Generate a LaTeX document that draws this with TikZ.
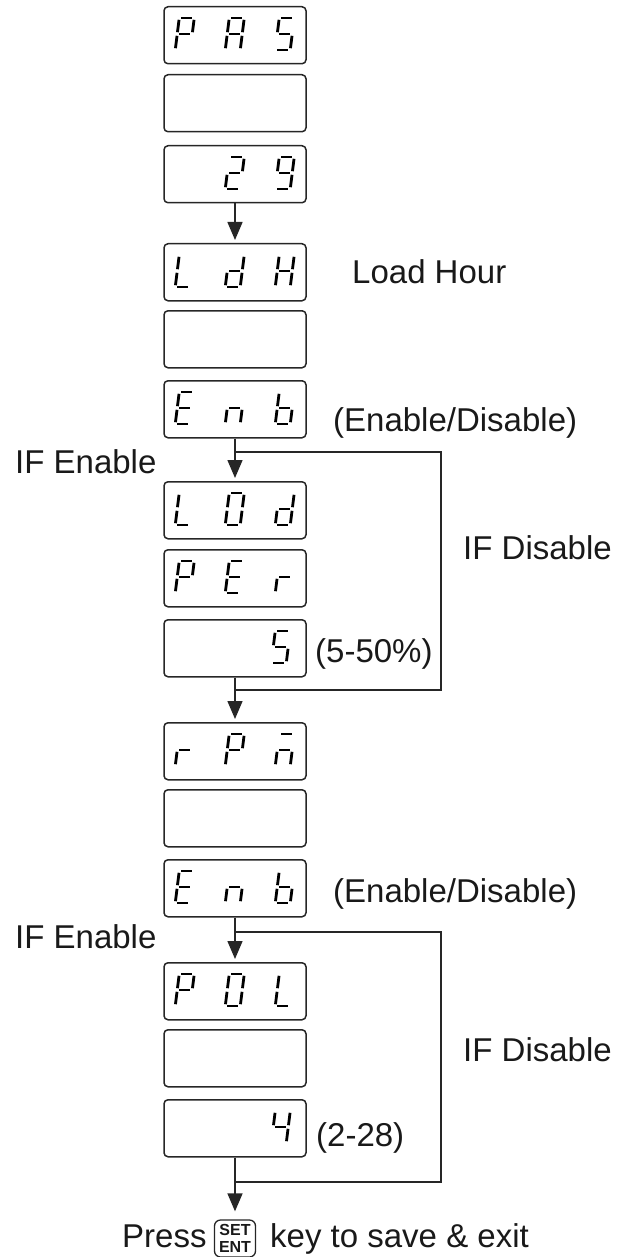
\documentclass[tikz,border=0pt]{standalone}
\usepackage{fontspec}
\setmainfont{Liberation Sans}
\usetikzlibrary{arrows.meta}

% seven-segment geometry: cell 19 wide (15 + 4 slant), 32 high, y grows downwards
\def\dsega{(5.8,0) -- (17.2,0)}
\def\dsegb{(18.775,1.8) -- (17.225,14.2)}
\def\dsegc{(16.775,17.8) -- (15.225,30.2)}
\def\dsegd{(1.8,32) -- (13.2,32)}
\def\dsege{(1.775,17.8) -- (0.225,30.2)}
\def\dsegf{(3.775,1.8) -- (2.225,14.2)}
\def\dsegg{(3.8,16) -- (15.2,16)}

% one digit: box name, x offset inside the box, list of lit segments
\newcommand\sevdigit[3]{%
  \begin{scope}[shift={(#1.north west)}, shift={(#2,12)}]
    \foreach \sg in {#3}{%
      \edef\segcmd{\noexpand\draw[segline] \csname dseg\sg\endcsname;}\segcmd}
  \end{scope}}

\tikzset{
  disp/.style={draw=black!85, line width=1.5pt, rounded corners=4pt,
    minimum width=142pt, minimum height=57pt, inner sep=0pt, anchor=north},
  segline/.style={line width=2.8pt, line cap=butt, draw=black},
  conn/.style={draw=black!85, line width=1.5pt},
  arr/.style={conn, -{Triangle[width=15pt,length=18pt]}, shorten >=3pt},
  lbl/.style={font=\fontsize{33}{36}\selectfont, text=black!90,
    inner sep=0pt, anchor=base west},
  keycap/.style={draw=black!85, line width=1.3pt, rounded corners=6pt,
    minimum width=41pt, minimum height=37pt, inner sep=0pt, align=center,
    font=\fontsize{16}{17}\selectfont\bfseries, text=black!90},
}

\begin{document}
\begin{tikzpicture}[x=1pt,y=-1pt]
\useasboundingbox (0,0) rectangle (631,1257);

% display boxes
\node[disp] (pas)  at (235,6)    {};
\node[disp] (bl1)  at (235,74)   {};
\node[disp] (v29)  at (235,145)  {};
\node[disp] (ldh)  at (235,243)  {};
\node[disp] (bl2)  at (235,310)  {};
\node[disp] (enb1) at (235,380)  {};
\node[disp] (lod)  at (235,481)  {};
\node[disp] (per)  at (235,549)  {};
\node[disp] (val1) at (235,619)  {};
\node[disp] (rpm)  at (235,722)  {};
\node[disp] (bl3)  at (235,789)  {};
\node[disp] (enb2) at (235,859)  {};
\node[disp] (pol)  at (235,962)  {};
\node[disp] (bl4)  at (235,1029) {};
\node[disp] (val2) at (235,1099) {};

% P A S
\sevdigit{pas}{12}{a,b,e,f,g}
\sevdigit{pas}{62}{a,b,c,e,f,g}
\sevdigit{pas}{112}{a,f,g,c,d}
% 2 9
\sevdigit{v29}{62}{a,b,g,e,d}
\sevdigit{v29}{112}{a,b,c,d,f,g}
% L d H
\sevdigit{ldh}{12}{f,e,d}
\sevdigit{ldh}{62}{b,c,d,e,g}
\sevdigit{ldh}{112}{b,c,e,f,g}
% E n b
\sevdigit{enb1}{12}{a,d,e,f,g}
\sevdigit{enb1}{62}{c,e,g}
\sevdigit{enb1}{112}{c,d,e,f,g}
% L O d
\sevdigit{lod}{12}{f,e,d}
\sevdigit{lod}{62}{a,b,c,d,e,f}
\sevdigit{lod}{112}{b,c,d,e,g}
% P E r
\sevdigit{per}{12}{a,b,e,f,g}
\sevdigit{per}{62}{a,d,e,f,g}
\sevdigit{per}{112}{e,g}
% 5
\sevdigit{val1}{108}{a,f,g,c,d}
% r P m
\sevdigit{rpm}{12}{e,g}
\sevdigit{rpm}{62}{a,b,e,f,g}
\sevdigit{rpm}{112}{a,c,e,g}
% E n b
\sevdigit{enb2}{12}{a,d,e,f,g}
\sevdigit{enb2}{62}{c,e,g}
\sevdigit{enb2}{112}{c,d,e,f,g}
% P O L
\sevdigit{pol}{12}{a,b,e,f,g}
\sevdigit{pol}{62}{a,b,c,d,e,f}
\sevdigit{pol}{112}{f,e,d}
% 4
\sevdigit{val2}{108}{b,c,f,g}

% labels
\node[lbl] (lh)   at (352,283)  {Load Hour};
\node[lbl] (ed1)  at (333,431)  {(Enable/Disable)};
\node[lbl] (ie1)  at (15,473)   {IF Enable};
\node[lbl] (id1)  at (463,559)  {IF Disable};
\node[lbl] (rng1) at (315,662)  {(5-50\%)};
\node[lbl] (ed2)  at (333,902)  {(Enable/Disable)};
\node[lbl] (ie2)  at (15,948)   {IF Enable};
\node[lbl] (id2)  at (463,1061) {IF Disable};
\node[lbl] (rng2) at (316,1146) {(2-28)};
\node[lbl] (press) at (122,1247) {Press};
\node[keycap] (key) at (235,1238.5) {SET\\ENT};
\node[lbl] (rest) at (270,1247) {key to save \& exit};

% branch points of the two enable/disable loops
\coordinate (br1) at (235,452);
\coordinate (rt1) at (441,452);
\coordinate (jn1) at (235,690);
\coordinate (br2) at (235,932);
\coordinate (rt2) at (441,932);
\coordinate (jn2) at (235,1182);

% connectors
\draw[arr] (v29) -- (ldh);
\draw[arr] (enb1) -- (lod);
\draw[conn] (br1) -- (rt1) |- (jn1);
\draw[arr] (val1) -- (rpm);
\draw[arr] (enb2) -- (pol);
\draw[conn] (br2) -- (rt2) |- (jn2);
\draw[arr, shorten >=8pt] (val2) -- (key);
\end{tikzpicture}
\end{document}
